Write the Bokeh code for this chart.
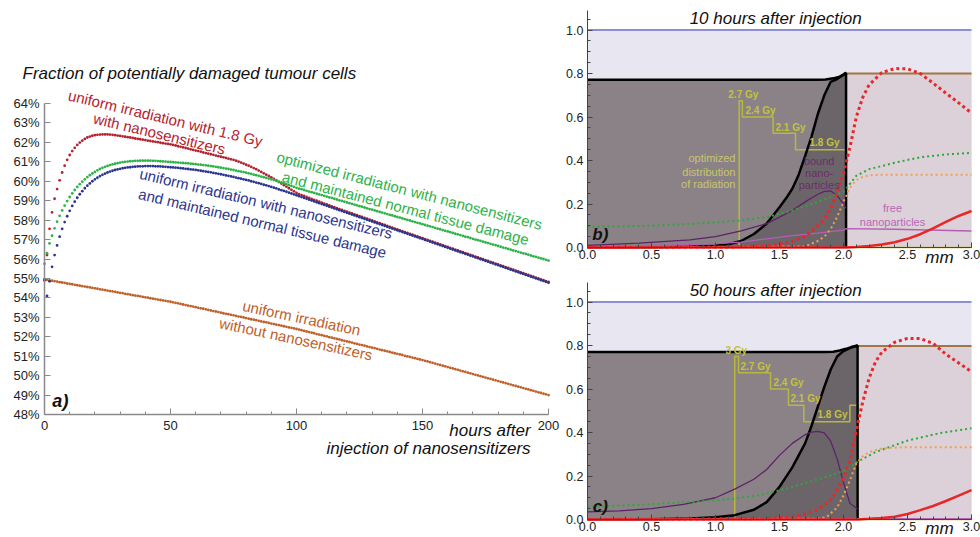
from bokeh.plotting import figure
from bokeh.layouts import row, column
from bokeh.models import Label, FixedTicker, SingleIntervalTicker, PrintfTickFormatter, Range1d
from bokeh.embed import file_html
from bokeh.resources import INLINE
import math

# ---------------- panel a) data (percent of damaged tumour cells) ----------------
hours = list(range(201))

orange_uniform = [
    54.95,54.93,54.90,54.88,54.86,54.84,54.81,54.79,54.77,54.74,
    54.72,54.70,54.67,54.65,54.63,54.60,54.58,54.56,54.54,54.51,
    54.49,54.47,54.44,54.42,54.40,54.37,54.35,54.33,54.31,54.28,
    54.26,54.24,54.21,54.19,54.17,54.14,54.12,54.10,54.08,54.05,
    54.03,54.01,53.98,53.96,53.94,53.91,53.89,53.87,53.85,53.82,
    53.80,53.77,53.74,53.72,53.69,53.66,53.63,53.60,53.58,53.55,
    53.52,53.49,53.46,53.44,53.41,53.38,53.35,53.32,53.30,53.27,
    53.24,53.21,53.18,53.16,53.13,53.10,53.07,53.04,53.02,52.99,
    52.96,52.93,52.90,52.88,52.85,52.82,52.79,52.76,52.74,52.71,
    52.68,52.65,52.62,52.60,52.57,52.54,52.51,52.48,52.46,52.43,
    52.40,52.37,52.34,52.30,52.27,52.24,52.21,52.18,52.14,52.11,
    52.08,52.05,52.02,51.98,51.95,51.92,51.89,51.86,51.82,51.79,
    51.76,51.73,51.70,51.66,51.63,51.60,51.57,51.54,51.50,51.47,
    51.44,51.41,51.38,51.34,51.31,51.28,51.25,51.22,51.18,51.15,
    51.12,51.09,51.06,51.02,50.99,50.96,50.93,50.90,50.86,50.83,
    50.80,50.76,50.73,50.69,50.66,50.62,50.58,50.55,50.51,50.48,
    50.44,50.40,50.37,50.33,50.30,50.26,50.22,50.19,50.15,50.12,
    50.08,50.04,50.01,49.97,49.94,49.90,49.86,49.83,49.79,49.76,
    49.72,49.68,49.65,49.61,49.58,49.54,49.50,49.47,49.43,49.40,
    49.36,49.32,49.29,49.25,49.22,49.18,49.14,49.11,49.07,49.04,
    49.00]

red_uniform_nano = [
    54.95,56.20,57.55,58.40,59.10,59.60,60.05,60.45,60.80,61.10,
    61.35,61.55,61.72,61.87,61.99,62.09,62.18,62.25,62.30,62.34,
    62.37,62.39,62.40,62.41,62.41,62.41,62.40,62.39,62.37,62.35,
    62.33,62.31,62.29,62.27,62.25,62.23,62.20,62.18,62.16,62.14,
    62.12,62.09,62.07,62.05,62.03,62.01,61.98,61.96,61.94,61.92,
    61.90,61.87,61.84,61.80,61.77,61.74,61.71,61.68,61.64,61.61,
    61.58,61.55,61.52,61.48,61.45,61.42,61.39,61.36,61.32,61.29,
    61.26,61.23,61.20,61.16,61.13,61.10,61.06,61.01,60.96,60.91,
    60.85,60.80,60.74,60.68,60.62,60.55,60.48,60.41,60.34,60.27,
    60.20,60.12,60.04,59.96,59.88,59.80,59.72,59.64,59.56,59.48,
    59.40,59.34,59.29,59.24,59.19,59.14,59.09,59.04,59.00,58.95,
    58.90,58.85,58.81,58.76,58.71,58.67,58.62,58.57,58.53,58.48,
    58.44,58.39,58.34,58.30,58.25,58.21,58.16,58.11,58.07,58.02,
    57.98,57.93,57.88,57.84,57.79,57.75,57.70,57.65,57.61,57.56,
    57.52,57.47,57.43,57.38,57.34,57.29,57.25,57.20,57.16,57.11,
    57.07,57.02,56.98,56.93,56.89,56.84,56.80,56.75,56.71,56.66,
    56.62,56.57,56.53,56.48,56.44,56.39,56.35,56.30,56.26,56.21,
    56.17,56.12,56.08,56.03,55.99,55.94,55.90,55.85,55.81,55.76,
    55.72,55.67,55.63,55.58,55.54,55.49,55.45,55.40,55.36,55.31,
    55.27,55.22,55.18,55.13,55.09,55.04,55.00,54.95,54.91,54.86,
    54.82]

green_optimized = [
    55.75,56.30,56.80,57.20,57.58,57.92,58.22,58.50,58.75,58.98,
    59.19,59.38,59.55,59.71,59.85,59.98,60.10,60.21,60.31,60.40,
    60.48,60.56,60.63,60.69,60.74,60.79,60.83,60.87,60.90,60.93,
    60.96,60.98,61.00,61.01,61.03,61.04,61.05,61.05,61.06,61.06,
    61.06,61.06,61.06,61.05,61.05,61.04,61.03,61.02,61.01,61.00,
    60.99,60.98,60.97,60.96,60.95,60.94,60.93,60.92,60.90,60.89,
    60.88,60.86,60.85,60.83,60.82,60.80,60.78,60.76,60.74,60.72,
    60.70,60.68,60.65,60.63,60.60,60.58,60.55,60.52,60.50,60.47,
    60.44,60.41,60.38,60.34,60.31,60.28,60.24,60.21,60.17,60.14,
    60.10,60.06,60.02,59.98,59.94,59.90,59.85,59.80,59.76,59.71,
    59.66,59.62,59.59,59.55,59.51,59.47,59.44,59.40,59.36,59.32,
    59.29,59.25,59.21,59.17,59.14,59.10,59.06,59.02,58.99,58.95,
    58.91,58.87,58.84,58.80,58.76,58.72,58.69,58.65,58.61,58.57,
    58.54,58.50,58.46,58.42,58.39,58.35,58.31,58.27,58.24,58.20,
    58.16,58.13,58.09,58.05,58.01,57.98,57.94,57.90,57.86,57.83,
    57.79,57.75,57.71,57.68,57.64,57.60,57.56,57.53,57.49,57.45,
    57.42,57.38,57.34,57.30,57.27,57.23,57.19,57.15,57.12,57.08,
    57.04,57.00,56.97,56.93,56.89,56.85,56.82,56.78,56.74,56.71,
    56.67,56.63,56.59,56.56,56.52,56.48,56.44,56.41,56.37,56.33,
    56.29,56.26,56.22,56.18,56.14,56.11,56.07,56.03,56.00,55.96,
    55.92]

blue_uniform_maintained = [
    54.90,54.10,54.85,55.60,56.20,56.70,57.15,57.55,57.90,58.20,
    58.48,58.73,58.95,59.15,59.33,59.49,59.64,59.77,59.89,60.00,
    60.10,60.18,60.26,60.33,60.39,60.45,60.50,60.54,60.58,60.61,
    60.64,60.67,60.69,60.71,60.72,60.74,60.75,60.76,60.77,60.77,
    60.78,60.78,60.78,60.78,60.77,60.77,60.76,60.75,60.74,60.73,
    60.72,60.71,60.70,60.69,60.67,60.66,60.64,60.63,60.61,60.60,
    60.58,60.56,60.54,60.52,60.50,60.48,60.46,60.43,60.41,60.38,
    60.36,60.33,60.30,60.28,60.25,60.22,60.19,60.16,60.13,60.10,
    60.07,60.04,60.00,59.97,59.93,59.90,59.86,59.82,59.79,59.75,
    59.71,59.67,59.63,59.58,59.54,59.50,59.46,59.41,59.37,59.32,
    59.28,59.23,59.19,59.14,59.10,59.05,59.01,58.96,58.92,58.87,
    58.83,58.78,58.74,58.69,58.65,58.60,58.56,58.51,58.47,58.42,
    58.38,58.33,58.29,58.24,58.20,58.15,58.11,58.06,58.02,57.97,
    57.93,57.88,57.84,57.79,57.75,57.70,57.66,57.61,57.57,57.52,
    57.48,57.43,57.39,57.34,57.30,57.25,57.21,57.16,57.12,57.07,
    57.03,56.98,56.94,56.89,56.85,56.80,56.76,56.71,56.67,56.62,
    56.58,56.53,56.49,56.44,56.40,56.35,56.31,56.26,56.22,56.17,
    56.13,56.08,56.04,55.99,55.95,55.90,55.86,55.81,55.77,55.72,
    55.68,55.63,55.59,55.54,55.50,55.45,55.41,55.36,55.32,55.27,
    55.23,55.18,55.14,55.09,55.05,55.00,54.96,54.91,54.87,54.82,
    54.78]

pct_ticks = list(range(48, 65))
hour_bounds = (0, 200)
pct_bounds = (48, 64)

# ---------------- panels b) and c) data (depth in mm) ----------------
# panel b: 10 hours after injection
b_top_x = [0.0, 1.80, 1.86, 1.92, 1.97, 2.00, 2.02]
b_top_y = [0.771, 0.771, 0.773, 0.778, 0.786, 0.795, 0.803]
b_interface = 2.02
b_normal_top = 0.80
b_sig_x = [0.0, 0.5, 0.8, 1.0, 1.1, 1.2, 1.3, 1.4, 1.5, 1.55, 1.6, 1.65, 1.7, 1.75, 1.8, 1.85, 1.9, 1.95, 2.0, 2.02]
b_sig_y = [0.0, 0.001, 0.004, 0.008, 0.015, 0.03, 0.062, 0.11, 0.185, 0.225, 0.27, 0.335, 0.42, 0.51, 0.615, 0.70, 0.762, 0.775, 0.795, 0.803]
b_bound_x = [0.0, 0.4, 0.8, 1.0, 1.2, 1.4, 1.5, 1.6, 1.7, 1.8, 1.85, 1.9, 1.95, 2.0, 2.02]
b_bound_y = [0.01, 0.02, 0.035, 0.05, 0.076, 0.11, 0.14, 0.17, 0.21, 0.245, 0.258, 0.26, 0.24, 0.20, 0.18]
b_free_x = [0.0, 0.5, 1.0, 1.2, 1.4, 1.6, 1.8, 2.0, 2.02, 2.4, 3.0]
b_free_y = [0.003, 0.008, 0.018, 0.025, 0.04, 0.055, 0.066, 0.08, 0.087, 0.084, 0.076]
b_green_x = [0.0, 0.5, 1.0, 1.2, 1.4, 1.6, 1.8, 2.0, 2.02, 2.1, 2.2, 2.4, 2.6, 2.8, 3.0]
b_green_y = [0.095, 0.10, 0.115, 0.125, 0.14, 0.17, 0.21, 0.255, 0.27, 0.33, 0.36, 0.39, 0.415, 0.428, 0.435]
b_redd_x = [0.0, 1.2, 1.4, 1.5, 1.6, 1.7, 1.8, 1.85, 1.9, 1.95, 2.0, 2.05, 2.1, 2.15, 2.2, 2.3, 2.4, 2.5, 2.6, 2.7, 2.8, 2.9, 3.0]
b_redd_y = [0.0, 0.003, 0.01, 0.017, 0.028, 0.05, 0.10, 0.13, 0.18, 0.25, 0.34, 0.46, 0.60, 0.69, 0.748, 0.805, 0.823, 0.822, 0.80, 0.756, 0.71, 0.665, 0.618]
b_orange_x = [0.0, 1.7, 1.8, 1.85, 1.9, 1.95, 2.0, 2.05, 2.1, 2.15, 2.2, 2.3, 2.5, 3.0]
b_orange_y = [0.0, 0.005, 0.03, 0.05, 0.085, 0.14, 0.21, 0.275, 0.31, 0.325, 0.332, 0.335, 0.335, 0.335]
b_reds_x = [0.0, 2.02, 2.1, 2.2, 2.3, 2.4, 2.5, 2.6, 2.7, 2.8, 2.9, 3.0]
b_reds_y = [0.0, 0.0, 0.002, 0.007, 0.014, 0.024, 0.04, 0.061, 0.088, 0.118, 0.145, 0.168]
b_dose_bounds = [1.185, 1.21, 1.45, 1.625, 2.02]
b_doses_gy = [2.7, 2.4, 2.1, 1.8]

# panel c: 50 hours after injection
c_top_x = [0.0, 1.85, 1.92, 1.97, 2.02, 2.06, 2.11]
c_top_y = [0.77, 0.77, 0.772, 0.777, 0.785, 0.793, 0.80]
c_interface = 2.11
c_normal_top = 0.798
c_sig_x = [0.0, 0.5, 0.8, 1.0, 1.15, 1.3, 1.4, 1.5, 1.6, 1.7, 1.75, 1.8, 1.85, 1.9, 1.95, 2.0, 2.05, 2.11]
c_sig_y = [0.0, 0.001, 0.005, 0.01, 0.02, 0.045, 0.08, 0.15, 0.24, 0.35, 0.43, 0.52, 0.61, 0.69, 0.75, 0.775, 0.788, 0.80]
c_bound_x = [0.0, 0.25, 0.5, 0.75, 1.0, 1.15, 1.3, 1.4, 1.5, 1.6, 1.7, 1.75, 1.8, 1.85, 1.9, 1.95, 2.0, 2.05, 2.11]
c_bound_y = [0.035, 0.04, 0.05, 0.07, 0.10, 0.14, 0.185, 0.23, 0.295, 0.35, 0.39, 0.402, 0.405, 0.398, 0.36, 0.28, 0.17, 0.075, 0.048]
c_free_x = [0.0, 2.11, 3.0]
c_free_y = [0.002, 0.004, 0.004]
c_green_x = [0.0, 0.5, 1.0, 1.15, 1.35, 1.6, 1.87, 2.03, 2.11, 2.25, 2.5, 2.75, 3.0]
c_green_y = [0.058, 0.07, 0.088, 0.097, 0.112, 0.15, 0.197, 0.23, 0.266, 0.31, 0.363, 0.397, 0.42]
c_redd_x = [0.0, 1.4, 1.6, 1.7, 1.8, 1.9, 1.95, 2.0, 2.05, 2.1, 2.15, 2.2, 2.25, 2.3, 2.4, 2.5, 2.6, 2.7, 2.8, 2.9, 3.0]
c_redd_y = [0.0, 0.004, 0.012, 0.025, 0.045, 0.09, 0.135, 0.19, 0.27, 0.41, 0.54, 0.65, 0.725, 0.77, 0.815, 0.833, 0.832, 0.81, 0.76, 0.72, 0.68]
c_orange_x = [0.0, 1.8, 1.87, 1.95, 2.0, 2.05, 2.1, 2.15, 2.2, 2.3, 2.45, 3.0]
c_orange_y = [0.0, 0.004, 0.012, 0.055, 0.11, 0.18, 0.258, 0.29, 0.31, 0.327, 0.332, 0.332]
c_reds_x = [0.0, 2.11, 2.2, 2.3, 2.4, 2.5, 2.6, 2.7, 2.8, 2.9, 3.0]
c_reds_y = [0.0, 0.0, 0.003, 0.007, 0.013, 0.025, 0.043, 0.062, 0.085, 0.11, 0.135]
c_dose_bounds = [1.15, 1.18, 1.43, 1.57, 1.69, 2.05, 2.11]
c_doses_gy = [3.0, 2.7, 2.4, 2.1, 1.8, 2.1]

dose_scale = 0.25   # plotted height per Gy
depth_max = 3.0
capacity = 1.0
y_top = 1.09

FONT = "Liberation Sans"


def lab(p, x, y, t, color, size="15px", angle=0.0, align="center", style="normal", base="middle"):
    p.add_layout(Label(x=x, y=y, text=t, text_color=color, text_font=FONT, text_font_size=size,
                       text_font_style=style, angle=angle, text_align=align, text_baseline=base))


def bare_figure(w, h, xr, yr):
    p = figure(width=w, height=h, x_range=Range1d(*xr), y_range=Range1d(*yr),
               output_backend="svg", toolbar_location=None, min_border=0)
    p.min_border_left = 0
    p.min_border_right = 0
    p.min_border_top = 0
    p.min_border_bottom = 0
    p.grid.visible = False
    p.outline_line_color = None
    p.background_fill_color = "white"
    p.border_fill_color = "white"
    return p


# ---------------- panel a ----------------
# frame covers the whole 560x537 canvas; axes are pinned at x=0 / y=48%
pa = bare_figure(560, 537, (-44 / 2.52, (560 - 44) / 2.52),
                 (48 - 123 / 19.4375, 64 + 103 / 19.4375))

for ax in (pa.xaxis[0], pa.yaxis[0]):
    ax.axis_line_color = "#8a8a8a"
    ax.axis_line_width = 1.5
    ax.major_tick_line_color = "#8a8a8a"
    ax.minor_tick_line_color = "#8a8a8a"
    ax.major_tick_in = 6
    ax.major_tick_out = 0
    ax.minor_tick_in = 3
    ax.minor_tick_out = 0
    ax.major_label_text_font = FONT
    ax.major_label_text_font_size = "13px"
    ax.major_label_text_color = "#222222"
pa.xaxis[0].fixed_location = pct_bounds[0]
pa.xaxis[0].bounds = hour_bounds
pa.xaxis[0].ticker = SingleIntervalTicker(interval=50, num_minor_ticks=5)
pa.xaxis[0].major_label_standoff = 6
pa.yaxis[0].fixed_location = hour_bounds[0]
pa.yaxis[0].bounds = pct_bounds
pa.yaxis[0].ticker = FixedTicker(ticks=pct_ticks)
pa.yaxis[0].formatter = PrintfTickFormatter(format="%d%%")
pa.yaxis[0].major_label_standoff = 5

pa.scatter(hours, orange_uniform, size=2.8, color="#c0602a", line_width=0)
pa.scatter(hours, red_uniform_nano, size=2.8, color="#b5222e", line_width=0)
pa.scatter(hours, green_optimized, size=2.8, color="#2fb24a", line_width=0)
pa.scatter(hours, blue_uniform_maintained, size=2.8, color="#2b3590", line_width=0)

ang = -math.radians(13.5)
lab(pa, 48.0, 63.25, "uniform irradiation with 1.8 Gy", "#b5222e", angle=ang)
lab(pa, 45.6, 62.45, "with nanosensitizers", "#b5222e", angle=ang)
lab(pa, 144.8, 59.52, "optimized irradiation with nanosensitizers", "#2fb24a", angle=-math.radians(14.5))
lab(pa, 143.3, 58.62, "and maintained normal tissue damage", "#2fb24a", angle=-math.radians(14.5))
lab(pa, 87.9, 58.86, "uniform irradiation with nanosensitizers", "#2b3590", angle=ang)
lab(pa, 86.5, 57.85, "and maintained normal tissue damage", "#2b3590", angle=ang)
lab(pa, 102.0, 52.97, "uniform irradiation", "#c0602a", angle=-math.radians(12))
lab(pa, 99.8, 51.89, "without nanosensitizers", "#c0602a", angle=-math.radians(12))

lab(pa, -8.7, 65.54, "Fraction of potentially damaged tumour cells", "#111111", size="17px", align="left", style="italic")
lab(pa, 192.9, 47.18, "hours after", "#111111", size="17px", align="right", style="italic")
lab(pa, 192.9, 46.25, "injection of nanosensitizers", "#111111", size="17px", align="right", style="italic")
lab(pa, 6.3, 48.72, "a)", "#111111", size="18px", align="center", style="bold italic")


# ---------------- panels b, c ----------------
def step_path(bounds, doses):
    xs, ys = [bounds[0]], [0.0]
    for i, d in enumerate(doses):
        xs += [bounds[i], bounds[i + 1]]
        ys += [d * dose_scale, d * dose_scale]
    xs += [bounds[-1], depth_max]
    ys += [0.0, 0.0]
    return xs, ys


PX_MM = 128.0
PX_Y = 237.0 / y_top


def make_panel(height, top_b, bottom_b, title, tag, top_x, top_y, iface, normal_top,
               sig_x, sig_y, bound_x, bound_y, free_x, free_y, green_x, green_y,
               redd_x, redd_y, orange_x, orange_y, reds_x, reds_y, bounds, doses, gy_pos, mm_y):
    p = bare_figure(420, height, (-27 / PX_MM, depth_max + 9 / PX_MM),
                    (-bottom_b / PX_Y, y_top + top_b / PX_Y))
    for ax in (p.xaxis[0], p.yaxis[0]):
        ax.axis_line_color = "#444444"
        ax.major_tick_line_color = "#444444"
        ax.minor_tick_line_color = "#444444"
        ax.major_tick_in = 5
        ax.major_tick_out = 0
        ax.minor_tick_in = 3
        ax.minor_tick_out = 0
        ax.major_label_text_font = FONT
        ax.major_label_text_font_size = "12.5px"
        ax.major_label_text_color = "#222222"
        ax.major_label_standoff = 2
        ax.formatter = PrintfTickFormatter(format="%.1f")
    p.xaxis[0].fixed_location = 0
    p.xaxis[0].bounds = (0, depth_max)
    p.yaxis[0].fixed_location = 0
    p.yaxis[0].bounds = (0, y_top)
    p.xaxis[0].ticker = SingleIntervalTicker(interval=0.5, num_minor_ticks=5)
    p.yaxis[0].ticker = SingleIntervalTicker(interval=0.2, num_minor_ticks=4)
    p.yaxis[0].major_label_standoff = 4

    # fills
    p.varea(x=[0, depth_max], y1=[0, 0], y2=[capacity, capacity], fill_color="#e8e6f1")
    p.varea(x=[iface, depth_max], y1=[0, 0], y2=[normal_top, normal_top], fill_color="#dcd0d9")
    p.varea(x=top_x, y1=[0] * len(top_x), y2=top_y, fill_color="#8b8287")
    p.varea(x=sig_x, y1=[0] * len(sig_x), y2=sig_y, fill_color="#6b656a")
    # boundaries
    p.line([0, depth_max], [capacity, capacity], line_color="#8d8fd0", line_width=2)
    p.line([iface, depth_max], [normal_top, normal_top], line_color="#a27545", line_width=2)
    sx, sy = step_path(bounds, doses)
    p.line(sx, sy, line_color="#b8b83e", line_width=1.5)
    p.line(top_x + [iface], top_y + [0], line_color="black", line_width=2.5)
    p.line(sig_x, sig_y, line_color="black", line_width=2.5)
    # concentrations
    p.line(free_x, free_y, line_color="#b45fb4", line_width=1.3)
    p.line(bound_x, bound_y, line_color="#5e2266", line_width=1.3)
    p.line(green_x, green_y, line_color="#2fa83a", line_width=2, line_dash="2 3")
    p.line(orange_x, orange_y, line_color="#f0a050", line_width=2, line_dash="2 3")
    p.line(reds_x, reds_y, line_color="#e82828", line_width=2.5)
    p.line(redd_x, redd_y, line_color="#e82828", line_width=3, line_dash="3 3")

    for (gx, gy), d in zip(gy_pos, doses):
        lab(p, gx, gy, f"{d:g} Gy", "#c2c23c", size="10px", align="left", style="bold")

    lab(p, 1.47, 1.055, title, "#111111", size="17px", style="italic")
    lab(p, 0.1, 0.062, tag, "#111111", size="17px", style="bold italic")
    lab(p, 2.75, mm_y, "mm", "#111111", size="17px", style="italic")
    return p


b_gy_pos = [(1.10, 0.705), (1.234, 0.631), (1.469, 0.553), (1.734, 0.484)]
c_gy_pos = [(1.078, 0.779), (1.195, 0.705), (1.453, 0.631), (1.586, 0.558), (1.797, 0.484)]

pb = make_panel(270, 10, 23, "10 hours after injection", "b)", b_top_x, b_top_y, b_interface, b_normal_top,
                b_sig_x, b_sig_y, b_bound_x, b_bound_y, b_free_x, b_free_y, b_green_x, b_green_y,
                b_redd_x, b_redd_y, b_orange_x, b_orange_y, b_reds_x, b_reds_y,
                b_dose_bounds, b_doses_gy, b_gy_pos, -0.045)
for t, yy in zip(["optimized", "distribution", "of radiation"], [0.41, 0.346, 0.29]):
    lab(pb, 1.156, yy, t, "#c8c66c", size="11px", align="right")
for t, yy in zip(["bound", "nano-", "particles"], [0.40, 0.341, 0.286]):
    lab(pb, 1.81, yy, t, "#6b2d6b", size="11px")
for t, yy in zip(["free", "nanoparticles"], [0.18, 0.115]):
    lab(pb, 2.383, yy, t, "#b868b8", size="11px")

pc = make_panel(267, 12, 18, "50 hours after injection", "c)", c_top_x, c_top_y, c_interface, c_normal_top,
                c_sig_x, c_sig_y, c_bound_x, c_bound_y, c_free_x, c_free_y, c_green_x, c_green_y,
                c_redd_x, c_redd_y, c_orange_x, c_orange_y, c_reds_x, c_reds_y,
                c_dose_bounds, c_doses_gy, c_gy_pos, -0.041)

layout = row(pa, column(pb, pc))
open("out.html", "w").write(file_html(layout, INLINE))
